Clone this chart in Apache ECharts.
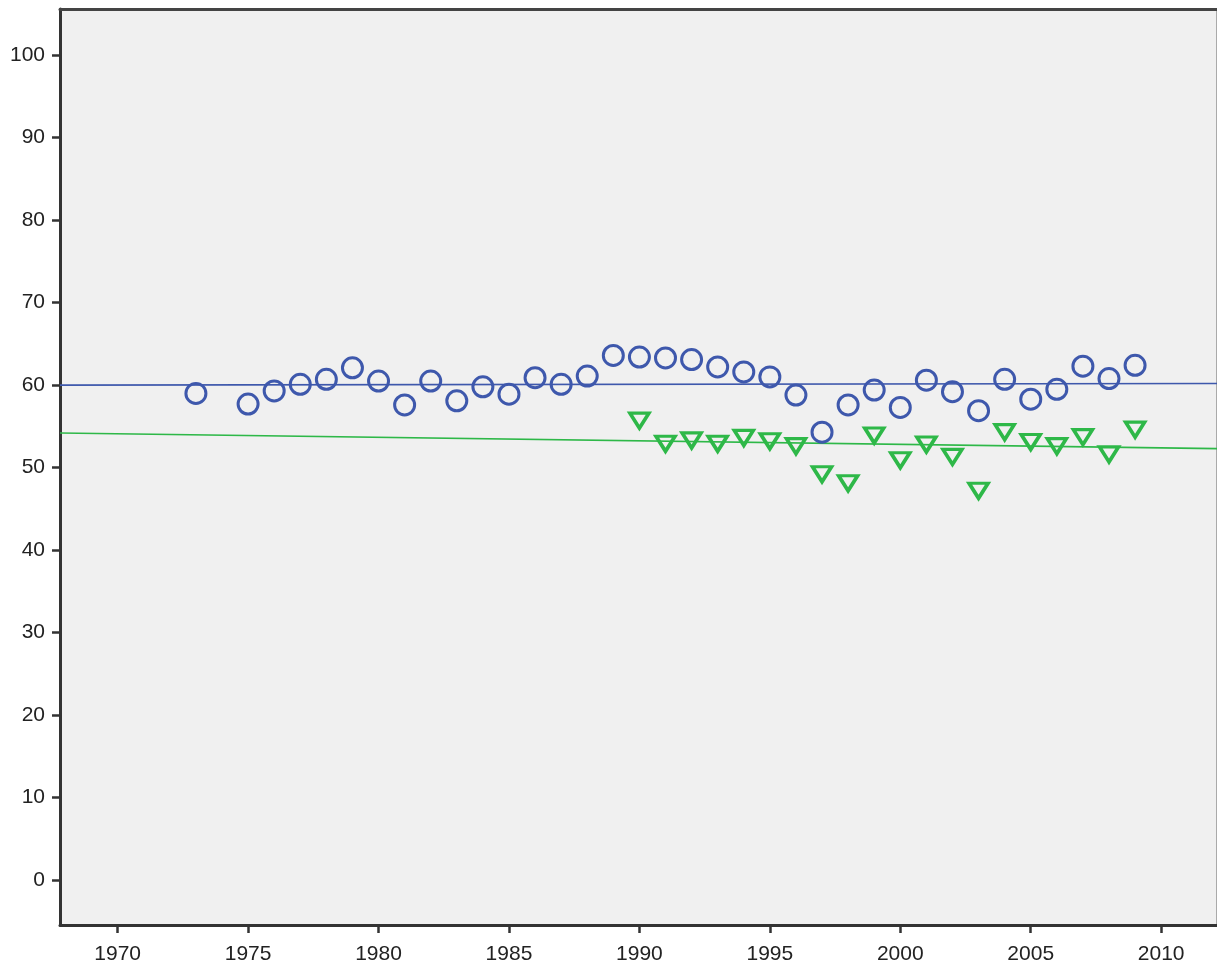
<!DOCTYPE html>
<html>
<head>
<meta charset="utf-8">
<script src="https://cdn.jsdelivr.net/npm/echarts@6/dist/echarts.min.js"></script>
<style>
html,body{margin:0;padding:0;background:#fff;}
#chart{width:1217px;height:965px;}
</style>
</head>
<body>
<div id="chart"></div>
<script>
// ---- data ----
const yearsA = [1973,1975,1976,1977,1978,1979,1980,1981,1982,1983,1984,1985,1986,1987,1988,1989,1990,1991,1992,1993,1994,1995,1996,1997,1998,1999,2000,2001,2002,2003,2004,2005,2006,2007,2008,2009];
const valuesA = [59.0,57.7,59.3,60.1,60.7,62.1,60.5,57.6,60.5,58.1,59.8,58.9,60.9,60.1,61.1,63.6,63.4,63.3,63.1,62.2,61.6,61.0,58.8,54.3,57.6,59.4,57.3,60.6,59.2,56.9,60.7,58.3,59.5,62.3,60.8,62.4];
const yearsB = [1990,1991,1992,1993,1994,1995,1996,1997,1998,1999,2000,2001,2002,2003,2004,2005,2006,2007,2008,2009];
const valuesB = [55.7,52.9,53.3,52.9,53.6,53.2,52.6,49.2,48.1,53.9,50.9,52.8,51.3,47.2,54.3,53.1,52.6,53.7,51.6,54.6];
// fit lines: [x, y] endpoints
const fitA = [[1967.79, 60.0], [2012.14, 60.2]];
const fitB = [[1967.79, 54.2], [2012.14, 52.3]];
const xTicks = [1970,1975,1980,1985,1990,1995,2000,2005,2010];
const yTicks = [0,10,20,30,40,50,60,70,80,90,100];

const blue = '#3e58ac', green = '#2eb848';
const chart = echarts.init(document.getElementById('chart'), null, {renderer:'canvas'});
const font = {fontFamily:'Liberation Sans, Arial, sans-serif', fontSize:21, color:'#222'};
chart.setOption({
  animation:false,
  backgroundColor:'#fff',
  grid:{left:60, top:9, right:0, bottom:40, show:true, backgroundColor:'#f0f0f0', borderWidth:0},
  xAxis:[{
    type:'value', min:1967.79, max:2012.14,
    axisLine:{show:true, onZero:false, lineStyle:{color:'#333', width:3}},
    axisTick:{show:true, customValues:xTicks, length:8, lineStyle:{color:'#333', width:2.5}},
    axisLabel:Object.assign({customValues:xTicks, margin:19, formatter:v=>String(v)}, font),
    splitLine:{show:false}
  },{
    type:'value', position:'top', min:1967.79, max:2012.14,
    axisLine:{show:true, onZero:false, lineStyle:{color:'#444', width:3}},
    axisTick:{show:false}, axisLabel:{show:false}, splitLine:{show:false}
  }],
  yAxis:[{
    type:'value', min:-5.45, max:105.6,
    axisLine:{show:true, onZero:false, lineStyle:{color:'#333', width:3}},
    axisTick:{show:true, customValues:yTicks, length:8, lineStyle:{color:'#333', width:2.5}},
    axisLabel:Object.assign({customValues:yTicks, margin:15}, font),
    splitLine:{show:false}
  },{
    type:'value', position:'right', min:-5.45, max:105.6,
    axisLine:{show:true, onZero:false, lineStyle:{color:'#aaa', width:2}},
    axisTick:{show:false}, axisLabel:{show:false}, splitLine:{show:false}
  }],
  series:[
    {type:'line', data:fitA, symbol:'none', lineStyle:{color:blue, width:1.6}, silent:true, z:1},
    {type:'line', data:fitB, symbol:'none', lineStyle:{color:green, width:1.6}, silent:true, z:1},
    {type:'scatter', data:yearsA.map((y,i)=>[y,valuesA[i]]), symbol:'circle', symbolSize:20,
     itemStyle:{color:'rgba(0,0,0,0)', borderColor:blue, borderWidth:3, opacity:1}, z:3},
    {type:'scatter', data:yearsB.map((y,i)=>[y,valuesB[i]]), symbol:'triangle', symbolRotate:180, symbolSize:[19,15],
     itemStyle:{color:'rgba(0,0,0,0)', borderColor:green, borderWidth:3.5, opacity:1}, z:3}
  ]
});
</script>
</body>
</html>
